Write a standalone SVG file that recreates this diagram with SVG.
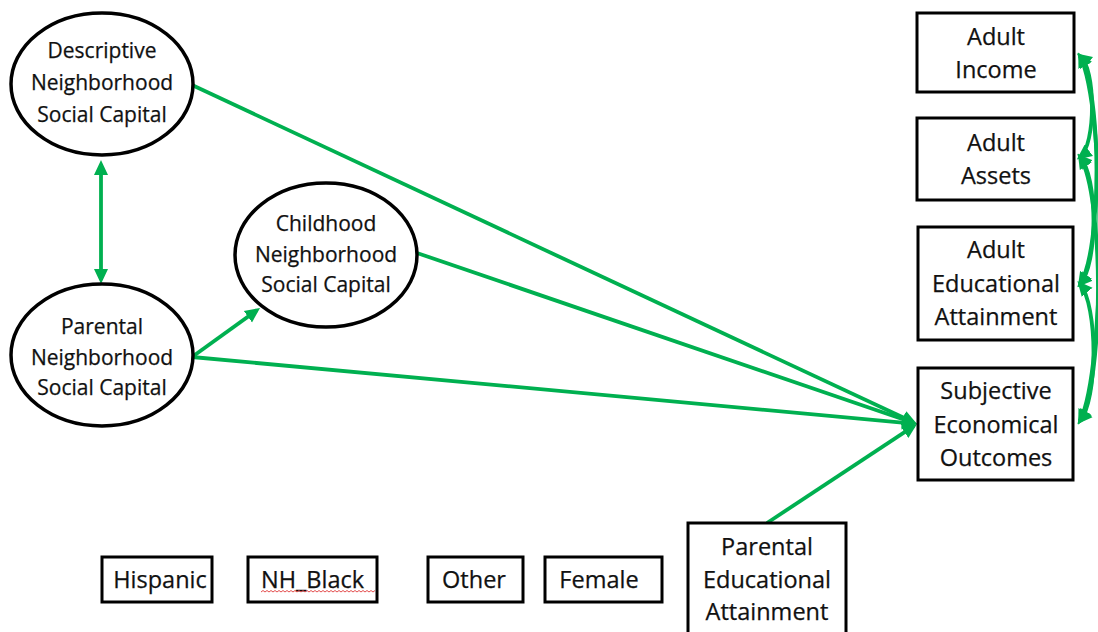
<svg xmlns="http://www.w3.org/2000/svg" width="1098" height="632" viewBox="0 0 1098 632">
  <style>
    .node { fill: #ffffff; stroke: #000000; stroke-width: 3.5; }
    .box { fill: #ffffff; stroke: #000000; stroke-width: 3; }
    .lbl { font-family: "Open Sans", "Noto Sans", sans-serif; fill: #111111; stroke: #111111; stroke-width: 0.25; text-anchor: middle; }
    .oval-t { font-size: 21px; }
    .box-t { font-size: 23.5px; }
    .link { fill: none; stroke: #00B050; stroke-width: 3.8; }
    .arr { marker-end: url(#head); }
    .both { marker-start: url(#head); marker-end: url(#head); }
  </style>
  <defs>
    <marker id="head" viewBox="0 0 16 16" refX="11" refY="8" markerWidth="16" markerHeight="16" markerUnits="userSpaceOnUse" orient="auto-start-reverse">
      <path d="M0 1 L15 8 L0 15 Z" fill="#00B050"/>
    </marker>
  </defs>
  <rect width="1098" height="632" fill="#ffffff"/>

  <!-- connectors -->
  <g id="connectors">
    <line class="link both" x1="101" y1="164" x2="101" y2="280"/>
    <line class="link arr" x1="192" y1="357" x2="256.8" y2="310.3"/>
    <line class="link arr" x1="192" y1="85" x2="913.4" y2="422.3"/>
    <line class="link arr" x1="417" y1="253" x2="913.2" y2="422.7"/>
    <line class="link arr" x1="192" y1="357" x2="913.0" y2="423.6"/>
    <line class="link arr" x1="767" y1="523" x2="913.7" y2="426.2"/>
    <!-- covariances among the adult outcomes -->
    <path class="link both" d="M1080 56 C1096 68 1096 145 1080 157"/>
    <path class="link both" d="M1080 56 C1102 90 1102 250 1080 284"/>
    <path class="link both" d="M1080 56 C1106 110 1106 367 1080 421"/>
    <path class="link both" d="M1080 157 C1098 176 1098 265 1080 284"/>
    <path class="link both" d="M1080 157 C1104 196 1104 382 1080 421"/>
    <path class="link both" d="M1080 284 C1098 305 1098 400 1080 421"/>
  </g>

  <g id="descriptive">
    <ellipse class="node" cx="102" cy="84" rx="91" ry="71"/>
    <text class="lbl oval-t" x="102" y="58">Descriptive</text>
    <text class="lbl oval-t" x="102" y="90">Neighborhood</text>
    <text class="lbl oval-t" x="102" y="122">Social Capital</text>
  </g>
  <g id="parental">
    <ellipse class="node" cx="102" cy="355" rx="91" ry="71"/>
    <text class="lbl oval-t" x="102" y="334">Parental</text>
    <text class="lbl oval-t" x="102" y="365">Neighborhood</text>
    <text class="lbl oval-t" x="102" y="395">Social Capital</text>
  </g>
  <g id="childhood">
    <ellipse class="node" cx="326" cy="255" rx="91" ry="72"/>
    <text class="lbl oval-t" x="326" y="231">Childhood</text>
    <text class="lbl oval-t" x="326" y="262">Neighborhood</text>
    <text class="lbl oval-t" x="326" y="292">Social Capital</text>
  </g>

  <g id="income">
    <rect class="box" x="917" y="13" width="157" height="79"/>
    <text class="lbl box-t" x="996" y="45">Adult</text>
    <text class="lbl box-t" x="996" y="78">Income</text>
  </g>
  <g id="assets">
    <rect class="box" x="917" y="118" width="157" height="82"/>
    <text class="lbl box-t" x="996" y="151">Adult</text>
    <text class="lbl box-t" x="996" y="184">Assets</text>
  </g>
  <g id="education">
    <rect class="box" x="918" y="227" width="155" height="113"/>
    <text class="lbl box-t" x="996" y="258">Adult</text>
    <text class="lbl box-t" x="996" y="292">Educational</text>
    <text class="lbl box-t" x="996" y="325">Attainment</text>
  </g>
  <g id="subjective">
    <rect class="box" x="918" y="368" width="155" height="112"/>
    <text class="lbl box-t" x="996" y="399">Subjective</text>
    <text class="lbl box-t" x="996" y="433">Economical</text>
    <text class="lbl box-t" x="996" y="466">Outcomes</text>
  </g>

  <g id="parent-education">
    <rect class="box" x="688" y="523" width="158" height="115"/>
    <text class="lbl box-t" x="767" y="555">Parental</text>
    <text class="lbl box-t" x="767" y="588">Educational</text>
    <text class="lbl box-t" x="767" y="620">Attainment</text>
  </g>

  <g id="hispanic">
    <rect class="box" x="102" y="557" width="110" height="45"/>
    <text class="lbl box-t" x="160" y="588">Hispanic</text>
  </g>
  <g id="nh-black">
    <rect class="box" x="248" y="557" width="129" height="45"/>
    <text class="lbl box-t" x="261" y="588" style="text-anchor:start">NH_Black</text>
    <path d="M261 592 l2 -1.5 l2 1.5 l2 -1.5 l2 1.5 l2 -1.5 l2 1.5 l2 -1.5 l2 1.5 l2 -1.5 l2 1.5 l2 -1.5 l2 1.5 l2 -1.5 l2 1.5 l2 -1.5 l2 1.5 l2 -1.5 l2 1.5 l2 -1.5 l2 1.5 l2 -1.5 l2 1.5 l2 -1.5 l2 1.5 l2 -1.5 l2 1.5 l2 -1.5 l2 1.5 l2 -1.5 l2 1.5 l2 -1.5 l2 1.5 l2 -1.5 l2 1.5 l2 -1.5 l2 1.5 l2 -1.5 l2 1.5 l2 -1.5 l2 1.5 l2 -1.5 l2 1.5 l2 -1.5 l2 1.5 l2 -1.5 l2 1.5 l2 -1.5 l2 1.5 l2 -1.5 l2 1.5 l2 -1.5 l2 1.5 l2 -1.5 l2 1.5 l2 -1.5 l2 1.5 l2 -1.5" fill="none" stroke="#e03a3a" stroke-width="0.9"/>
  </g>
  <g id="other">
    <rect class="box" x="428" y="557" width="95" height="45"/>
    <text class="lbl box-t" x="474" y="588">Other</text>
  </g>
  <g id="female">
    <rect class="box" x="545" y="557" width="117" height="45"/>
    <text class="lbl box-t" x="599" y="588">Female</text>
  </g>
</svg>
